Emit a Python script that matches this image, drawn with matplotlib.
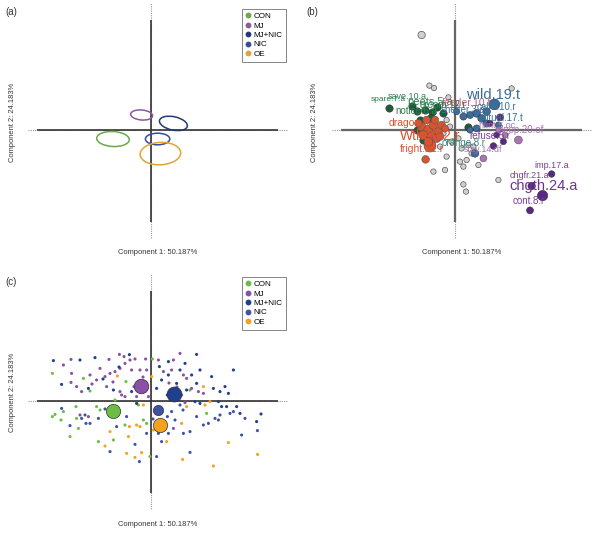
import matplotlib
matplotlib.use("Agg")
import matplotlib.pyplot as plt
from matplotlib.patches import Ellipse
from matplotlib.lines import Line2D

plt.rcParams['font.family'] = ['Liberation Sans', 'DejaVu Sans']

# ---------------- data ----------------
groups = ["CON", "MJ", "MJ+NIC", "NIC", "OE"]
col_a = ["#6aaa48", "#8a5a9a", "#243a78", "#3a4c98", "#e2a535"]
col_c = ["#6cbd45", "#8b4fa6", "#1f3f8f", "#3e52a6", "#f4a21e"]
xlab = "Component 1: 50.187%"
ylab = "Component 2: 24.183%"

# panel (a): group ellipses (centre x, centre y, width, height, angle)
ell_x = [-1.90, -0.47, 1.12, 0.33, 0.47]
ell_y = [-0.45, 0.75, 0.33, -0.45, -1.18]
ell_w = [1.63, 1.10, 1.42, 1.22, 2.03]
ell_h = [0.75, 0.50, 0.67, 0.58, 1.12]
ell_a = [-3, -5, -12, 0, 3]

# panel (c): group centroids and individual scores
cen_x = [-1.92, -0.48, 1.15, 0.35, 0.45]
cen_y = [-0.48, 0.75, 0.33, -0.45, -1.20]
cen_s = [105, 110, 115, 55, 105]

con_x = [-4.93, -3.38, -3.05, -1.25, 0.07, -4.93, -4.80, -4.38, -4.50, -3.72, -3.75, -2.55, -2.72,
         -4.05, -3.63, -2.63, -1.88, -1.30, -0.05, -0.38, -0.22, 2.78, -1.80, 1.95, -0.63]
con_y = [1.38, 1.13, 0.50, 0.97, 2.10, -0.78, -0.67, -0.53, -0.95, -0.87, -0.28, -0.45, -0.28,
         -1.78, -1.37, -2.03, -1.95, -1.20, -2.78, -0.95, -1.12, -0.62, 0.05, 0.55, -0.20]
mj_x = [-4.38, -4.00, -2.10, -1.58, -1.35, -1.05, -0.80, -0.27, 0.37, 1.12, 1.45, -3.97, -4.00,
        -3.72, -3.47, -2.55, -2.30, -2.05, -1.80, -1.55, -1.30, -0.97, -0.55, -0.22, -2.72, -2.22,
        -1.55, -1.47, -1.30, -0.85, -0.72, -0.13, 0.62, 1.03, 1.62, 1.78, 2.03, 2.37, 2.62, 1.53,
        -3.55, -3.13, 1.70, 1.12, -3.05, -1.90, -0.40, 0.90, 1.30, -2.95]
mj_y = [1.80, 2.08, 2.08, 2.33, 2.22, 2.05, 2.10, 2.10, 2.05, 2.05, 2.38, 1.38, 0.93,
        0.72, 0.47, 1.63, 1.22, 1.38, 1.47, 1.63, 1.88, 1.55, 1.55, 1.55, 1.05, 0.72,
        0.47, 0.30, 0.22, 0.72, 0.22, 0.22, 1.47, 1.55, 1.30, 1.13, 0.63, 0.47, 0.38, 0.30,
        -0.70, -0.78, -0.08, -1.37, 1.30, 0.95, 1.20, 0.90, 0.70, 0.85]
mn_x = [-4.88, -3.55, -2.80, -1.08, 0.87, 2.28, 1.70, 0.42, 0.87, 1.45, 2.03, 2.45, 2.28, 3.03,
        3.12, 3.45, 3.70, 4.12, 3.87, 1.78, -4.47, -3.13, -1.88, -0.97, -0.72, 3.37, 2.45, 2.20,
        3.53, 3.78, 4.28, 5.50, 5.28, 4.45, 0.82, 0.28, 0.53, 1.28, -1.60, -2.40]
mn_y = [2.02, 2.05, 2.17, 2.32, 1.97, 2.33, 1.88, 1.72, 1.30, 1.55, 1.30, 1.55, 0.88, 1.22,
        0.63, 0.47, 0.72, 1.55, 0.38, 0.55, 0.83, 0.63, 0.55, 0.47, -0.12, -0.03, -0.12, -0.03,
        -0.28, -0.28, -0.28, -0.65, -1.03, -0.62, 0.30, 0.63, 1.05, 0.88, 1.70, 1.10]
nic_x = [-4.47, -4.05, -3.47, -3.30, -3.05, -3.25, -2.63, -2.05, -0.80, -0.58, 0.28, 0.37, 0.53,
         0.87, 1.20, 1.62, 1.95, 1.45, 2.28, 1.95, 2.62, 2.87, 3.20, 3.37, 3.45, 3.95, 4.12, 4.70,
         4.53, 5.32, 0.82, 1.03, -0.22, -1.22, -1.72, -2.30, 0.10, 1.60]
nic_y = [-0.37, -1.23, -0.87, -0.70, -1.12, -1.12, -0.87, -2.53, -2.17, -3.03, -2.78, -1.62, -2.03,
         -1.62, -0.95, -1.62, -1.53, -0.20, -0.78, -2.57, -1.20, -1.12, -0.87, -0.95, -0.70, -0.62,
         -0.53, -0.87, -1.70, -1.48, -0.78, -0.53, -1.62, -0.78, -1.28, -0.40, -0.90, -0.45]
oe_x = [-1.68, 2.62, -2.30, -2.05, -1.08, -1.13, -0.72, -1.22, -0.80, -0.47, -0.55, -0.38, 0.12,
        0.78, 1.53, 1.78, 1.58, 2.70, 2.95, 3.12, 3.87, 5.33, 0.03, 0.28]
oe_y = [1.25, 0.72, -2.25, -1.53, -1.28, -1.78, -1.20, -2.62, -2.82, -2.58, -1.28, -0.20, -1.45,
        -2.03, -1.12, -0.28, -2.92, -0.20, -0.03, -3.25, -2.08, -2.67, 1.22, -0.53]
ind_x = [con_x, mj_x, mn_x, nic_x, oe_x]
ind_y = [con_y, mj_y, mn_y, nic_y, oe_y]

# panel (b): variable loadings
gray_x = [-1.67, -1.28, -1.05, -0.33, 2.83, -1.08, -0.50, -0.42, 0.25, 0.58, 0.42, 1.17, 0.42, 0.55,
          2.17, -0.75, 0.33, 0.67, -0.17, 0.17, -0.42, -0.58, -0.25, 0.83, 0.92]
gray_y = [4.75, 2.22, 2.10, 1.63, 2.08, -2.08, -2.00, -1.33, -1.58, -1.50, -1.83, -1.75, -2.72, -3.08,
          -2.50, -0.83, -0.92, -0.75, -0.58, -0.42, 0.50, -0.17, 0.17, -1.17, -0.83]
gray_s = [28] + [15] * 24
var_cols = ["#1d5e3a", "#d9532e", "#3a6d9b", "#5a2a83", "#ad74b4"]
grn_x = [-3.28, -2.17, -1.88, -1.50, -1.17, -0.92, -1.75, -1.25, -0.58, -1.88, -1.58, 0.67]
grn_y = [1.08, 1.20, 0.97, 1.00, 0.92, 1.17, 0.50, 0.58, 0.83, 0.00, -0.50, 0.13]
red_x = [-1.25, -1.47, -1.67, -1.33, -1.08, -0.83, -1.58, -1.17, -0.92, -1.42, -1.00, -0.67,
         -1.83, -1.33, -0.75, -0.50]
red_y = [-0.80, -1.47, 0.17, 0.00, 0.25, -0.08, -0.25, -0.33, -0.42, 0.50, 0.50, 0.25,
         0.33, -0.58, -0.33, 0.08]
red_s = [75, 30, 40, 45, 40, 35, 45, 45, 35, 30, 30, 30, 30, 40, 30, 25]
blu_x = [1.97, 1.58, 1.08, 0.75, 1.33, 0.42, 0.08, 1.08, 1.58, 1.00, 0.75, 2.17]
blu_y = [1.28, 0.92, 0.83, 0.75, 0.58, 0.67, 0.92, 0.08, 0.33, -1.17, 0.00, 0.25]
blu_s = [60, 30, 30, 25, 30, 25, 20, 25, 25, 30, 20, 20]
pur_x = [4.83, 3.83, 4.38, 3.75, 2.25, 1.92, 2.42, 1.75, 2.08]
pur_y = [-2.20, -2.80, -3.28, -4.02, 0.63, -0.80, -0.58, 0.33, -0.25]
pur_s = [22, 28, 55, 25, 25, 22, 20, 20, 18]
lav_x = [3.17, 1.42, 2.50, 2.17]
lav_y = [-0.50, -1.42, -0.25, 0.00]
lav_s = [32, 24, 18, 16]

lab_txt = ["wild.19.t", "chgth.24.a", "imp.17.a", "chgfr.21.a", "cont.8.r", "spare.7.a", "save.10.a",
           "fright.21.r", "Wtheft.2.r", "dragon.5.a", "notice.6.a", "peets.5.a", "feeder.10.f",
           "calm.10.r", "ritual.17.t", "hunt.5.oc", "sleep.20.of", "refuse.5.r", "stay.14.df",
           "orange.8.r", "shelter.3.a", "groom.12.r"]
lab_x = [1.92, 4.42, 4.83, 3.72, 3.67, -3.33, -2.38, -1.67, -1.25, -2.08, -1.92, -1.25, 0.58,
         2.08, 2.42, 2.08, 3.25, 1.75, 1.42, 0.42, 0.42, -0.58]
lab_y = [1.75, -2.78, -1.75, -2.30, -3.55, 1.53, 1.67, -0.97, -0.30, 0.33, 0.97, 1.42, 1.37,
         1.13, 0.58, 0.20, 0.00, -0.30, -0.97, -0.63, 1.00, 1.25]
lab_fs = [10.5, 10.5, 6.5, 6.5, 7, 6, 6.5, 7.5, 10, 7.5, 7, 8, 7.5,
          7, 7, 6.5, 7, 7, 6.5, 7, 7, 7]
lab_c = ["#3a6d9b", "#6b3590", "#7a3d98", "#7a3d98", "#7a3d98", "#2e7d4f", "#2e7d4f",
         "#d9532e", "#d9532e", "#d9532e", "#2e7d4f", "#2e7d4f", "#c0607a",
         "#3a6d9b", "#3a6d9b", "#ad74b4", "#ad74b4", "#7a3d98", "#ad74b4",
         "#3b8a7a", "#3a6d9b", "#2e7d4f"]

# ---------------- layout ----------------
W, H = 600, 534
S = 20.0
fig = plt.figure(figsize=(W / 100, H / 100), dpi=100)
fig.patch.set_facecolor("white")

def panel(ox, oy, l, r, t, b):
    ax = fig.add_axes([l / W, 1 - b / H, (r - l) / W, (b - t) / H])
    ax.set_xlim((l - ox) / S, (r - ox) / S)
    ax.set_ylim((oy - b) / S, (oy - t) / S)
    ax.axis("off")
    return ax

def cross(ax, col, lw):
    ax.plot([-6.15, 6.8], [0, 0], color="#999999", lw=0.8, ls=(0, (1, 1)), zorder=1)
    ax.plot([0, 0], [-5.4, 6.35], color="#999999", lw=0.8, ls=(0, (1, 1)), zorder=1)
    ax.plot([-5.7, 6.35], [0, 0], color=col, lw=lw, zorder=2, solid_capstyle="butt")
    ax.plot([0, 0], [-4.6, 5.5], color=col, lw=lw, zorder=2, solid_capstyle="butt")

def ftext(x, y, s, **kw):
    fig.text(x / W, 1 - y / H, s, **kw)

def legend(colors, x, y):
    hs = [Line2D([], [], ls="", marker="o", ms=4.2, mfc=c, mec="none") for c in colors]
    leg = fig.legend(hs, groups, loc="upper left", bbox_to_anchor=(x / W, 1 - y / H),
                     fontsize=5.8, frameon=True, fancybox=False, handlelength=0.6,
                     handletextpad=0.4, labelspacing=0.22, borderpad=0.45, borderaxespad=0)
    leg.get_frame().set_edgecolor("#666666")
    leg.get_frame().set_linewidth(0.7)

# panel (a)
axa = panel(151, 130, 0, 300, 0, 245)
cross(axa, "#333333", 1.2)
for i in range(len(groups)):
    axa.add_patch(Ellipse((ell_x[i], ell_y[i]), ell_w[i], ell_h[i], angle=ell_a[i],
                          fill=False, ec=col_a[i], lw=1.1, zorder=3))
legend(col_a, 242, 9)

# panel (b)
axb = panel(455, 130, 300, 600, 0, 245)
cross(axb, "#666666", 1.6)
axb.scatter(gray_x, gray_y, s=gray_s, c="#d0d0d0", edgecolors="#555555", linewidths=0.5, zorder=3)
axb.scatter(grn_x, grn_y, s=28, c=var_cols[0], edgecolors="#333333", linewidths=0.4, zorder=4)
axb.scatter(red_x, red_y, s=red_s, c=var_cols[1], edgecolors="#555555", linewidths=0.4, zorder=4)
axb.scatter(blu_x, blu_y, s=blu_s, c=var_cols[2], edgecolors="#333333", linewidths=0.4, zorder=4)
axb.scatter(pur_x, pur_y, s=pur_s, c=var_cols[3], edgecolors="#333333", linewidths=0.4, zorder=4)
axb.scatter(lav_x, lav_y, s=lav_s, c=var_cols[4], edgecolors="#555555", linewidths=0.4, zorder=4)
for t, x, y, fs, c in zip(lab_txt, lab_x, lab_y, lab_fs, lab_c):
    axb.text(x, y, t, fontsize=fs, color=c, ha="center", va="center", zorder=5)

# panel (c)
axc = panel(151, 401, 0, 300, 262, 530)
cross(axc, "#333333", 1.2)
for i in range(len(groups)):
    axc.scatter(ind_x[i], ind_y[i], s=5, c=col_c[i], edgecolors="none", zorder=3)
for i in range(len(groups)):
    axc.scatter([cen_x[i]], [cen_y[i]], s=cen_s[i], c=col_c[i], edgecolors="#333333",
                linewidths=0.5, zorder=4)
legend(col_c, 242, 277)

# text
for (x, y) in [(158, 252), (462, 252), (158, 524)]:
    ftext(x, y, xlab, fontsize=5.4, color="#333333", ha="center", va="center")
for (x, y) in [(13, 122), (315, 122), (13, 392)]:
    ftext(x, y, ylab, fontsize=5.4, color="#333333", ha="center", va="center", rotation=90)
for (x, y, s) in [(11, 12, "(a)"), (312, 12, "(b)"), (11, 282, "(c)")]:
    ftext(x, y, s, fontsize=7, color="#333333", ha="center", va="center")

fig.savefig("out.png", dpi=100, facecolor="white")
